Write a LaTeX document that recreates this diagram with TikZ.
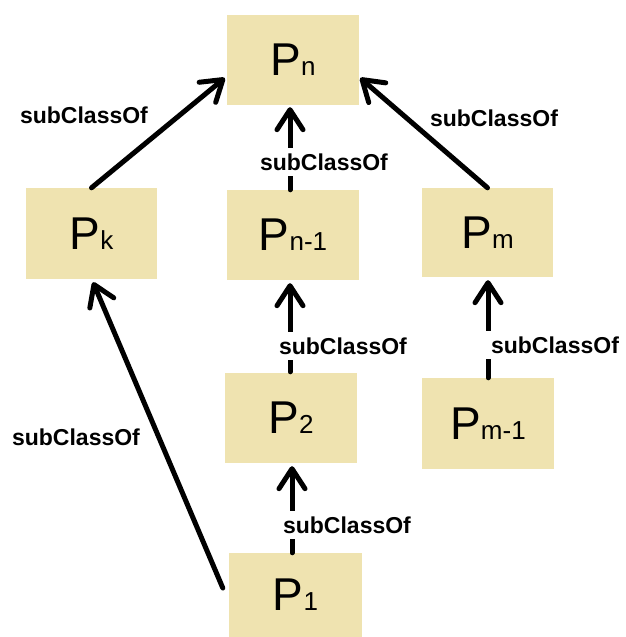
\documentclass[tikz,border=0pt]{standalone}
\usepackage{fontspec}
\setmainfont{Liberation Sans}
\usetikzlibrary{arrows.meta,calc}
\definecolor{boxfill}{RGB}{239,227,176}
\newcommand\clsname[1]{{\fontsize{46}{46}\selectfont P}{\fontsize{26}{26}\selectfont #1}}
\begin{document}
\begin{tikzpicture}[x=1pt,y=-1pt,
  cls/.style={fill=boxfill, draw=none, minimum width=132pt, minimum height=90pt, inner sep=0pt, anchor=center},
  rel/.style={line width=5pt, line cap=round, line join=round, -{Straight Barb[length=20pt,width=26pt,line cap=round,line join=round]}},
  lbl/.style={fill=white, font=\fontsize{23}{23}\selectfont\bfseries, inner xsep=1pt, inner ysep=6pt}]
\useasboundingbox (0,0) rectangle (626,637);
\node[cls] (Pn) at (293,60) {\clsname{n}};
\node[cls, minimum width=131pt, minimum height=91pt] (Pk) at (91.5,233.5) {\clsname{k}};
\node[cls] (Pn1) at (293,235) {\clsname{n-1}};
\node[cls, minimum width=131pt, minimum height=89pt] (Pm) at (487.5,232.5) {\clsname{m}};
\node[cls] (P2) at (291,418) {\clsname{2}};
\node[cls, minimum height=91pt] (Pm1) at (488,423.5) {\clsname{m-1}};
\node[cls, minimum width=133pt, minimum height=84pt] (P1) at (295.5,595) {\clsname{1}};

\draw[rel] (Pk.north) -- ($(Pn.west)+(-2,18)$);
\draw[rel] (Pm.north) -- ($(Pn.east)+(1,18)$);
\draw[rel] ($(Pn1.north)+(-3,0)$) -- ($(Pn.south)+(-3,2)$);
\draw[rel] ($(P2.north)+(-1,-1)$) -- ($(Pn1.south)+(-3,3)$);
\draw[rel] ($(P1.north)+(-3.5,0)$) -- ($(P2.south)+(1,3)$);
\draw[rel] (Pm1.north) -- ($(Pm.south)+(0.5,3)$);
\draw[rel] ($(P1.west)+(-6,-7)$) -- ($(Pk.south)+(1.5,3)$);

\node[lbl] (l1) at (84,115) {subClassOf};
\node[lbl] (l2) at (324,162) {subClassOf};
\node[lbl] (l3) at (494,118) {subClassOf};
\node[lbl] (l4) at (343,346) {subClassOf};
\node[lbl, inner xsep=6pt] (l5) at (555,345) {subClassOf};
\node[lbl] (l6) at (347,525) {subClassOf};
\node[lbl] (l7) at (76,437) {subClassOf};
\end{tikzpicture}
\end{document}
